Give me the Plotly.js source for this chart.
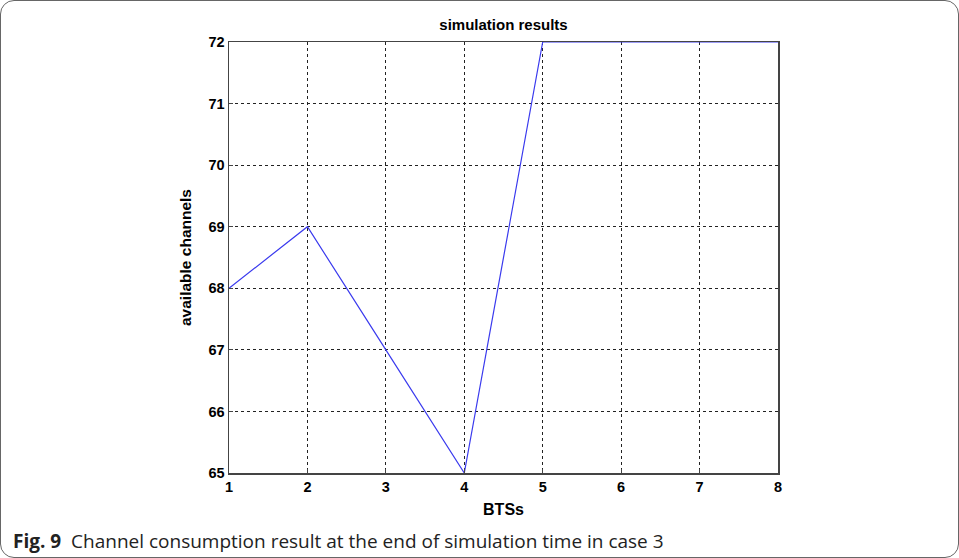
<!DOCTYPE html>
<html><head><meta charset="utf-8">
<script src="https://cdn.plot.ly/plotly-3.0.1.min.js"></script>
<style>
html,body{margin:0;padding:0;background:#fff;}
#frame{position:absolute;left:0;top:0;width:957px;height:556px;border:1px solid #666;border-radius:14px;overflow:hidden;}
#chart{position:absolute;left:-1px;top:-1px;width:959px;height:558px;}
</style>
</head><body>
<div id="frame"><div id="chart"></div></div>
<script>
const btsLabels = [1,2,3,4,5,6,7,8];
const availableChannels = [68,69,67,65,72,72,72,72];
const yTicks = [65,66,67,68,69,70,71,72];
const chartTitle = "simulation results";
const xTitle = "BTSs";
const yTitle = "available channels";
const caption = "<b>Fig. 9</b>  Channel consumption result at the end of simulation time in case 3";

const tickFont = {family:"Arial, Liberation Sans, sans-serif", size:14.5, color:"#000", weight:"bold"};
const axisCommon = {
  showline:true, mirror:true, linecolor:"#444", linewidth:1.5,
  showgrid:true, gridcolor:"#222", griddash:"dot", gridwidth:1,
  zeroline:false, ticks:"inside", ticklen:4, tickcolor:"#444",
  tickfont:tickFont
};
const data = [{
  x: btsLabels, y: availableChannels, type:"scatter", mode:"lines",
  line:{color:"#3a3aee", width:1.2}
}];
const layout = {
  width:959, height:558,
  margin:{l:229, r:181, t:42, b:85},
  paper_bgcolor:"rgba(0,0,0,0)", plot_bgcolor:"#fff",
  showlegend:false,
  title:{text:chartTitle, x:0.5, xref:"paper", y:1, yref:"paper", yanchor:"bottom", pad:{b:12},
         font:{family:"Arial, Liberation Sans, sans-serif", size:15, color:"#000", weight:"bold"}},
  xaxis:Object.assign({}, axisCommon, {range:[1,8], tickvals:btsLabels, ticktext:btsLabels.map(String),
     title:{text:xTitle, standoff:10, font:{family:"Arial, Liberation Sans, sans-serif", size:16, color:"#000", weight:"bold"}}}),
  yaxis:Object.assign({}, axisCommon, {range:[65,72], tickvals:yTicks, ticktext:yTicks.map(String),
     title:{text:yTitle, standoff:13, font:{family:"Arial, Liberation Sans, sans-serif", size:15.5, color:"#000", weight:"bold"}}}),
  annotations:[{
    text:caption, xref:"paper", yref:"paper", x:-218/549, y:-68/431, xanchor:"left", yanchor:"middle",
    showarrow:false, font:{family:"Open Sans, Noto Sans, sans-serif", size:19, color:"#222"}
  }]
};
Plotly.newPlot("chart", data, layout, {displayModeBar:false, staticPlot:true});
</script>
</body></html>
